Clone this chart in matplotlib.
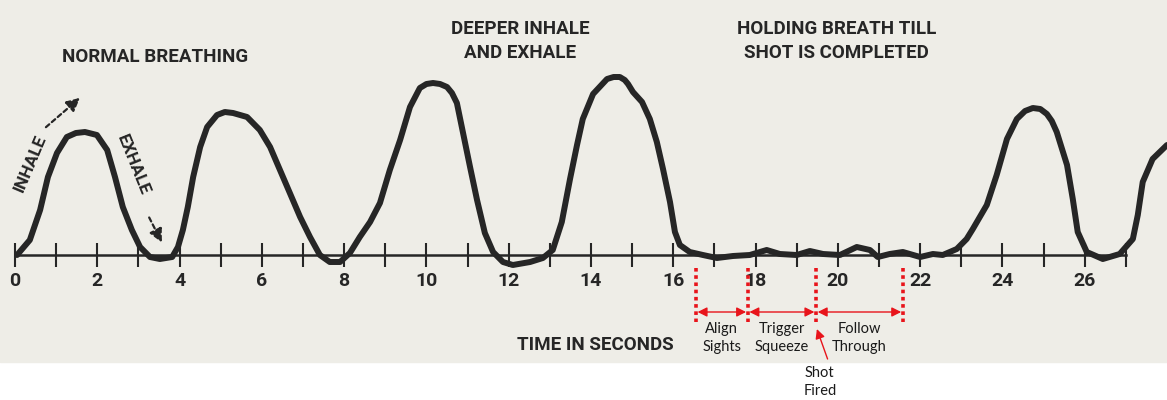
import numpy as np
import matplotlib.pyplot as plt
from matplotlib.ticker import FixedLocator

# Curva de respiracion (tiempo en segundos, volumen relativo)
tiempo = [0.05, 0.36, 0.61, 0.80, 1.02, 1.26, 1.48, 1.70, 1.99, 2.24, 2.43, 2.62, 2.84, 3.04,
          3.28, 3.52, 3.82, 3.96, 4.08, 4.20, 4.33, 4.50, 4.67, 4.91, 5.10, 5.30, 5.64, 5.95,
          6.20, 6.44, 6.68, 6.93, 7.17, 7.41, 7.65, 7.90, 8.14, 8.38, 8.63, 8.87, 9.11, 9.36,
          9.60, 9.84, 10.00, 10.16, 10.33, 10.50, 10.62, 10.74, 10.89, 11.06, 11.23, 11.42,
          11.62, 11.86, 12.10, 12.52, 12.83, 13.07, 13.29, 13.49, 13.66, 13.80, 14.05, 14.39,
          14.55, 14.70, 14.82, 14.90, 15.02, 15.24, 15.43, 15.60, 15.75, 15.92, 16.04, 16.16,
          16.40, 16.72, 17.06, 17.45, 17.86, 18.27, 18.59, 19.00, 19.32, 19.64, 20.05, 20.46,
          20.78, 20.97, 21.26, 21.58, 22.00, 22.31, 22.55, 22.89, 23.13, 23.28, 23.62, 23.86,
          24.11, 24.35, 24.55, 24.74, 24.92, 25.08, 25.20, 25.32, 25.57, 25.71, 25.83, 26.05,
          26.44, 26.85, 27.17, 27.29, 27.41, 27.65, 28.00]
volumen = [0.0, 1.5, 4.5, 7.8, 10.2, 11.8, 12.2, 12.3, 12.0, 10.5, 7.8, 4.8, 2.5, 0.8,
           -0.2, -0.4, -0.2, 0.8, 2.5, 4.8, 7.8, 10.8, 12.8, 14.0, 14.3, 14.2, 13.8, 12.5,
           10.8, 8.5, 6.2, 3.8, 1.8, 0.0, -0.7, -0.7, 0.2, 1.8, 3.3, 5.2, 8.5, 11.5,
           14.8, 16.7, 17.1, 17.2, 17.1, 16.8, 16.2, 15.2, 12.2, 8.8, 5.5, 2.2,
           0.3, -0.7, -1.0, -0.7, -0.3, 0.5, 3.3, 7.6, 11.0, 13.6, 16.1, 17.6,
           17.8, 17.8, 17.5, 17.1, 16.3, 15.3, 13.6, 11.3, 8.6, 5.3, 2.3, 1.0,
           0.3, 0.0, -0.3, -0.1, 0.0, 0.5, 0.1, 0.0, 0.4, 0.1, 0.0, 0.8,
           0.5, -0.2, 0.1, 0.3, -0.2, 0.1, 0.0, 0.6, 1.6, 2.6, 5.0, 8.0,
           11.6, 13.6, 14.4, 14.7, 14.6, 14.1, 13.4, 12.3, 9.0, 5.6, 2.3, 0.3,
           -0.4, 0.1, 1.6, 4.0, 7.3, 9.6, 11.0]

# Fases del disparo (segundos)
marcas_rojas = [16.55, 17.81, 19.47, 21.58]
fases = ["Align\nSights", "Trigger\nSqueeze", "Follow\nThrough"]

ticks_mayores = list(range(0, 27, 2))
ticks_menores = list(range(1, 28, 2))

fuente_titulo = ['Roboto', 'DejaVu Sans']
fuente_nota = ['Lato', 'DejaVu Sans']
negro = '#262626'
rojo = '#e8141b'

fig = plt.figure(figsize=(11.67, 4.0), dpi=100)
fig.patch.set_facecolor('white')
ax = fig.add_axes([0, 0, 1, 1])
ax.set_xlim(-0.365, 28.0)
ax.set_ylim(-14.5, 25.5)
ax.set_facecolor('white')

# Papel escaneado
ax.axhspan(-10.7, 25.5, color='#eeede7', zorder=0)

# Eje de tiempo con marcas que cruzan la linea
for lado in ['top', 'left', 'right']:
    ax.spines[lado].set_visible(False)
ax.spines['bottom'].set_position(('data', 0))
ax.spines['bottom'].set_bounds(0, 27)
ax.spines['bottom'].set_linewidth(1.8)
ax.spines['bottom'].set_color(negro)
ax.set_xticks(ticks_mayores)
ax.xaxis.set_minor_locator(FixedLocator(ticks_menores))
ax.set_xticklabels([str(t) for t in ticks_mayores], family=fuente_titulo,
                   fontsize=14, fontweight='bold', color=negro)
ax.tick_params(axis='x', which='both', direction='inout', length=17, width=1.5,
               color=negro, pad=4)
ax.set_yticks([])

# Curva de respiracion
ax.plot(tiempo, volumen, color=negro, lw=4.3, solid_joinstyle='round',
        solid_capstyle='round', zorder=3)

# Textos del diagrama
kw = dict(family=fuente_titulo, fontsize=13.5, fontweight='bold', color=negro,
          ha='center', va='center', linespacing=1.4)
ax.text(3.40, 19.8, "NORMAL BREATHING", **kw)
ax.text(12.27, 21.4, "DEEPER INHALE\nAND EXHALE", **kw)
ax.text(19.97, 21.4, "HOLDING BREATH TILL\nSHOT IS COMPLETED", **kw)
ax.text(14.1, -9.0, "TIME IN SECONDS", **kw)
ax.text(0.38, 9.2, "INHALE", family=fuente_titulo, fontsize=12.5, fontweight='bold',
        color=negro, ha='center', va='center', rotation=67)
ax.text(2.87, 9.0, "EXHALE", family=fuente_titulo, fontsize=12.5, fontweight='bold',
        color=negro, ha='center', va='center', rotation=-68)
ax.annotate("", xy=(1.63, 15.9), xytext=(0.70, 12.6),
            arrowprops=dict(arrowstyle='-|>', lw=1.6, ls=(0, (2, 1.5)), color=negro,
                            mutation_scale=20))
ax.annotate("", xy=(3.60, 1.0), xytext=(3.23, 4.0),
            arrowprops=dict(arrowstyle='-|>', lw=1.6, ls=(0, (2, 1.5)), color=negro,
                            mutation_scale=20))

# Lineas rojas punteadas y flechas de las fases
for m in marcas_rojas:
    ax.plot([m, m], [-1.3, -6.7], color=rojo, lw=2.6, ls=(0, (1, 1)), zorder=4)
for i, texto in enumerate(fases):
    x0, x1 = marcas_rojas[i], marcas_rojas[i + 1]
    ax.annotate("", xy=(x1 - 0.04, -5.7), xytext=(x0 + 0.04, -5.7),
                arrowprops=dict(arrowstyle='<|-|>', color=rojo, lw=1.0,
                                mutation_scale=14, shrinkA=0, shrinkB=0))
    ax.text((x0 + x1) / 2, -8.3, texto, family=fuente_nota, fontsize=10.5,
            color='#1a1a1a', ha='center', va='center', linespacing=1.3)

ax.text(19.56, -12.7, "Shot\nFired", family=fuente_nota, fontsize=10.5,
        color='#1a1a1a', ha='center', va='center', linespacing=1.3)
ax.annotate("", xy=(19.49, -7.4), xytext=(19.75, -10.4),
            arrowprops=dict(arrowstyle='-|>', color=rojo, lw=1.0, mutation_scale=14,
                            shrinkA=0, shrinkB=0))

fig.savefig('out.png', dpi=100)
